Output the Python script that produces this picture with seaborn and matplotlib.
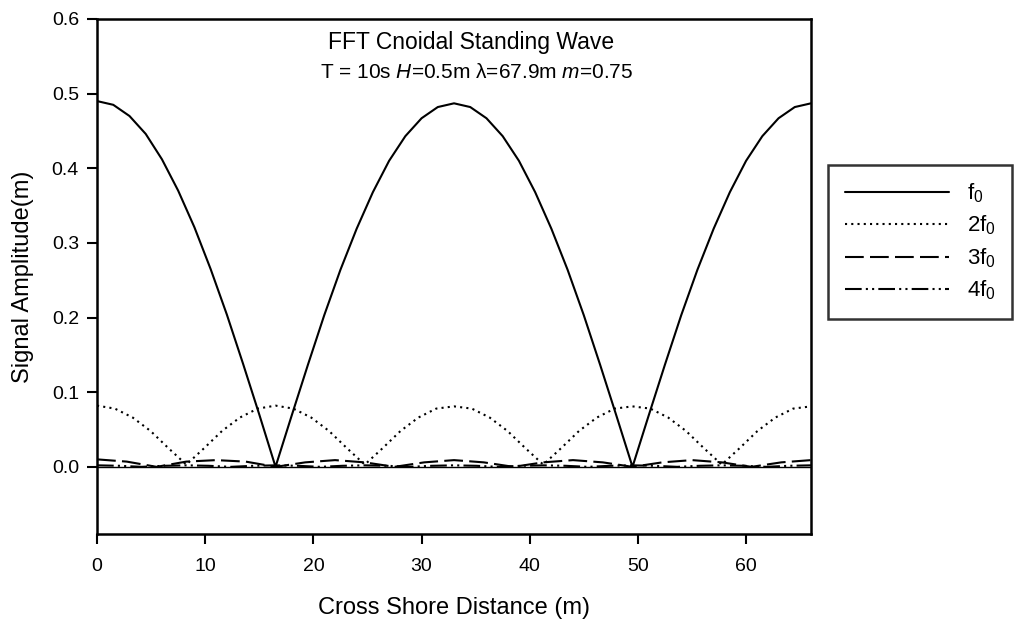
import matplotlib
matplotlib.use("Agg")
import matplotlib.pyplot as plt
import seaborn as sns
import pandas as pd

# ---- data ----
x_f0 = [i * 1.5 for i in range(45)]
f0 = [0.490, 0.485, 0.470, 0.446, 0.412, 0.370, 0.321, 0.265, 0.204, 0.138, 0.070, 0.000,
      0.069, 0.137, 0.203, 0.264, 0.319, 0.368, 0.410, 0.443, 0.467, 0.482, 0.487,
      0.482, 0.467, 0.443, 0.410, 0.368, 0.319, 0.264, 0.203, 0.137, 0.069, 0.000,
      0.069, 0.137, 0.203, 0.264, 0.319, 0.368, 0.410, 0.443, 0.467, 0.482, 0.487]

x_2f0 = [i * 1.65 for i in range(41)]
f2 = [0.082, 0.078, 0.066, 0.048, 0.025, 0.003, 0.025, 0.048, 0.066, 0.078,
      0.082, 0.078, 0.066, 0.048, 0.025, 0.003, 0.025, 0.048, 0.066, 0.078,
      0.081, 0.078, 0.066, 0.048, 0.025, 0.003, 0.025, 0.048, 0.066, 0.078,
      0.081, 0.078, 0.066, 0.048, 0.025, 0.003, 0.025, 0.048, 0.066, 0.078, 0.081]

x_3f0 = [i * 2.75 for i in range(25)]
f3 = [0.010, 0.007, 0.000, 0.007, 0.009, 0.007, 0.000, 0.006, 0.009, 0.006, 0.000, 0.006, 0.009,
      0.006, 0.000, 0.006, 0.009, 0.006, 0.000, 0.006, 0.009, 0.006, 0.000, 0.006, 0.009]

x_4f0 = [i * 2.0625 for i in range(33)]
f4 = [0.002, 0.0014, 0.000, 0.0014, 0.002, 0.0014, 0.000, 0.0014, 0.002, 0.0014, 0.000,
      0.0014, 0.002, 0.0014, 0.000, 0.0014, 0.002, 0.0014, 0.000, 0.0014, 0.002, 0.0014,
      0.000, 0.0014, 0.002, 0.0014, 0.000, 0.0014, 0.002, 0.0014, 0.000, 0.0014, 0.002]

labels = [r"f$_\mathregular{0}$", r"2f$_\mathregular{0}$", r"3f$_\mathregular{0}$", r"4f$_\mathregular{0}$"]
x_ticks = [0, 10, 20, 30, 40, 50, 60]
y_ticks = [0.0, 0.1, 0.2, 0.3, 0.4, 0.5, 0.6]

sns.set_theme(style="ticks")
plt.rcParams["font.family"] = ["Liberation Sans", "DejaVu Sans"]
plt.rcParams["mathtext.fontset"] = "custom"
plt.rcParams["mathtext.rm"] = "Liberation Sans"
plt.rcParams["mathtext.it"] = "Liberation Sans:italic"
plt.rcParams["text.color"] = "black"
plt.rcParams["axes.labelcolor"] = "black"

fig = plt.figure(figsize=(10.14, 6.24), dpi=100)
ax = fig.add_axes([0.0957, 0.1442, 0.7041, 0.8254])

styles = ["-", (0, (1, 2)), (0, (9, 3)), (0, (8, 2, 1, 2, 1, 2))]
series = [(x_f0, f0), (x_2f0, f2), (x_3f0, f3), (x_4f0, f4)]
for (xs, ys), lab, ls in zip(series, labels, styles):
    df = pd.DataFrame({"x": xs, "y": ys})
    sns.lineplot(data=df, x="x", y="y", ax=ax, color="black", linestyle=ls,
                 linewidth=1.5, label=lab)

ax.axhline(0, color="black", linewidth=1.0, zorder=0)

ax.set_xlim(0, 66)
ax.set_ylim(-0.09, 0.6)
ax.set_xticks(x_ticks)
ax.set_yticks(y_ticks)
ax.set_yticklabels([f"{v:.1f}" for v in y_ticks])
ax.tick_params(direction="out", length=7, width=1.5, labelsize=14, colors="black")
ax.tick_params(axis="x", pad=10)
ax.tick_params(axis="y", pad=6)
for s in ax.spines.values():
    s.set_linewidth(1.8)
    s.set_color("black")
    s.set_visible(True)

ax.set_xlabel("Cross Shore Distance (m)", fontsize=17, labelpad=16, color="black")
ax.set_ylabel("Signal Amplitude(m)", fontsize=17, labelpad=13, color="black")

ax.text(0.524, 0.955, "FFT Cnoidal Standing Wave", transform=ax.transAxes,
        ha="center", va="center", fontsize=16.5, color="black")
ax.text(0.532, 0.897, r"T = 10s $\it{H}$=0.5m λ=67.9m $\it{m}$=0.75", transform=ax.transAxes,
        ha="center", va="center", fontsize=15, color="black")

leg = ax.legend(loc="upper left", bbox_to_anchor=(0.8166, 0.736), bbox_transform=fig.transFigure,
                fontsize=16, handlelength=4.7, handletextpad=0.8, labelspacing=0.4,
                borderpad=0.75, frameon=True, fancybox=False, borderaxespad=0)
leg.get_frame().set_edgecolor("black")
leg.get_frame().set_linewidth(1.8)
leg.get_frame().set_facecolor("white")
for t in leg.get_texts():
    t.set_color("black")

fig.savefig("out.png", dpi=100)
